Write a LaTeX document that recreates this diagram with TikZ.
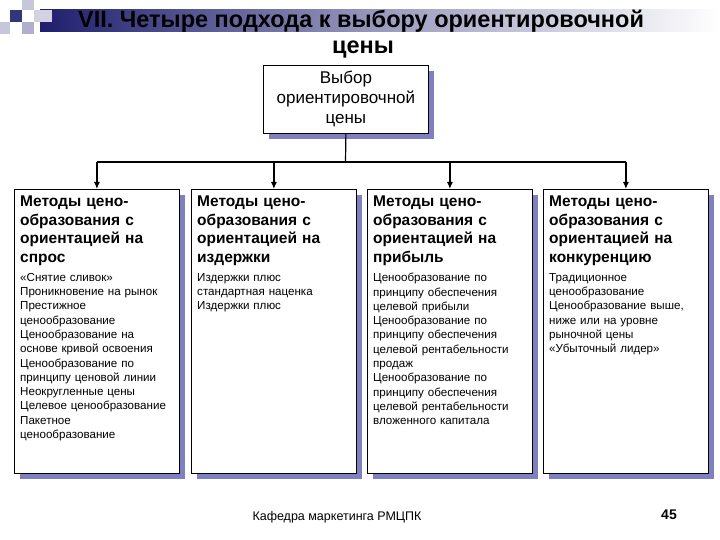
\documentclass[tikz,border=0pt]{standalone}
\usepackage{fontspec}
\setmainfont{Liberation Sans}
\usetikzlibrary{arrows.meta}
\begin{document}
\begin{tikzpicture}[x=1pt,y=-1pt,
  box/.style={draw=black,fill=white,line width=0.8pt},
  arr/.style={-{Latex[length=7pt,width=6pt]},line width=1.2pt},
  head/.style={font=\fontsize{15.5}{18.5}\selectfont\bfseries,align=left,anchor=north west,text width=160pt,inner sep=0pt},
  small/.style={font=\fontsize{11.6}{14.3}\selectfont,align=left,anchor=north west,text width=165pt,inner sep=0pt}]
\definecolor{shadowc}{RGB}{128,128,192}
\definecolor{navy}{RGB}{30,30,110}
\useasboundingbox (0,0) rectangle (720,540);
\fill[white] (0,0) rectangle (720,540);
% title band
\shade[left color=navy,right color=white,middle color=navy!45] (40,10) rectangle (720,32);
\fill[navy!90] (10,10) rectangle (22,22);
\fill[navy!25] (22,0) rectangle (34,10);
\fill[navy!25] (0,22) rectangle (10,34);
\fill[navy!35] (22,22) rectangle (34,34);
\fill[navy!20] (34,10) rectangle (52,22);
\node[font=\fontsize{23.5}{26}\selectfont\bfseries] (t1) at (361,21) {VII. Четыре подхода к выбору ориентировочной};
\node[font=\fontsize{23.5}{26}\selectfont\bfseries] (t2) at (363,50) {цены};
% top box
\fill[shadowc] (269,71) rectangle (434,139);
\node[box,minimum width=165pt,minimum height=68pt,anchor=north west,align=center,
  font=\fontsize{17}{20}\selectfont] (top) at (263,65) {Выбор\\ориентировочной\\цены};
% boxes
\foreach \i/\x in {1/14,2/191,3/367,4/543}{
  \fill[shadowc] (\x+6,195) rectangle (\x+171,479);
  \node[box,minimum width=165pt,minimum height=284pt,anchor=north west] (b\i) at (\x,189) {};
}
\coordinate (j) at (345.5,162);
\draw[line width=1.2pt] (top.south) -- (j);
\draw[line width=1.2pt] (b1.north |- j) -- (b4.north |- j);
\foreach \i in {1,...,4}{\draw[arr] (b\i.north |- j) -- (b\i.north);}
\node[head] (h1) at (20,196) {Методы цено-\\образования с\\ориентацией на\\спрос};
\node[head] (h2) at (197,196) {Методы цено-\\образования с\\ориентацией на\\издержки};
\node[head] (h3) at (373,196) {Методы цено-\\образования с\\ориентацией на\\прибыль};
\node[head] (h4) at (549,196) {Методы цено-\\образования с\\ориентацией на\\конкуренцию};
\node[small] (s1) at (20,273) {«Снятие сливок»\\Проникновение на рынок\\Престижное\\ценообразование\\Ценообразование на\\основе кривой освоения\\Ценообразование по\\принципу ценовой линии\\Неокругленные цены\\Целевое ценообразование\\Пакетное\\ценообразование};
\node[small] (s2) at (197,273) {Издержки плюс\\стандартная наценка\\Издержки плюс};
\node[small] (s3) at (373,273) {Ценообразование по\\принципу обеспечения\\целевой прибыли\\Ценообразование по\\принципу обеспечения\\целевой рентабельности\\продаж\\Ценообразование по\\принципу обеспечения\\целевой рентабельности\\вложенного капитала};
\node[small] (s4) at (549,273) {Традиционное\\ценообразование\\Ценообразование выше,\\ниже или на уровне\\рыночной цены\\«Убыточный лидер»};
\node[font=\fontsize{12.5}{14}\selectfont] (f) at (337,517) {Кафедра маркетинга РМЦПК};
\node[font=\fontsize{14}{16}\selectfont\bfseries] (n) at (669,515) {45};
\end{tikzpicture}
\end{document}
